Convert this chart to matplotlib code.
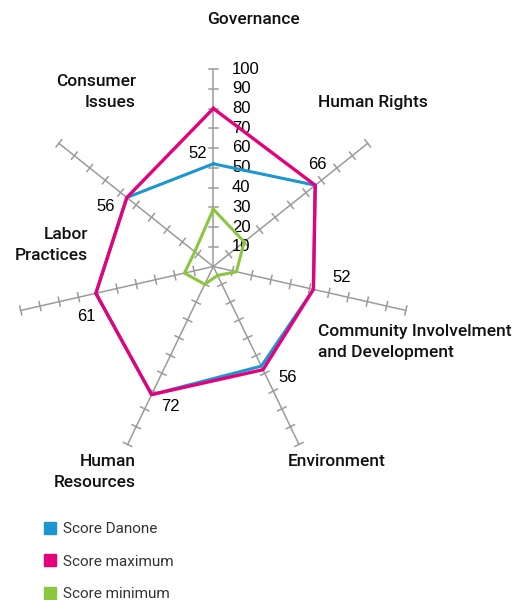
import numpy as np
import matplotlib.pyplot as plt
from matplotlib.patches import Patch

categories = ['Governance', 'Human Rights', 'Community Involvelment\nand Development',
              'Environment', 'Human\nResources', 'Labor\nPractices', 'Consumer\nIssues']
score_danone = [52, 66, 52, 56, 72, 61, 56]
score_max = [80, 66, 52, 58, 72, 61, 56]
score_min = [29, 20, 12, 5, 10, 15, 12]
scale_ticks = [10, 20, 30, 40, 50, 60, 70, 80, 90, 100]

W, H = 523, 600
cx, cy = 213.3, 266.5      # centre in pixels
k = 1.975                  # pixels per unit

fig = plt.figure(figsize=(W / 100, H / 100), dpi=100)
ax = fig.add_axes([0, 0, 1, 1])
ax.set_xlim(-cx / k, (W - cx) / k)
ax.set_ylim(-(H - cy) / k, cy / k)
ax.axis('off')

n = len(categories)
ang = np.deg2rad(90 - np.arange(n) * 360 / n)
ux, uy = np.cos(ang), np.sin(ang)

grey = '#9b9b9b'
# spokes with tick marks
for i in range(n):
    ax.plot([0, 100 * ux[i]], [0, 100 * uy[i]], color=grey, lw=1.1, zorder=1)
    px, py = -uy[i], ux[i]
    for t in scale_ticks:
        x0, y0 = t * ux[i], t * uy[i]
        ax.plot([x0 - 2.3 * px, x0 + 2.3 * px], [y0 - 2.3 * py, y0 + 2.3 * py],
                color=grey, lw=1.1, zorder=1)

# scale labels on the governance axis
for t in scale_ticks:
    ax.text(9.5, t, str(t), ha='left', va='center', fontsize=12,
            family='Liberation Sans', color='black')


def closed(v):
    v = np.array(v + v[:1], dtype=float)
    a = np.append(ang, ang[0])
    return v * np.cos(a), v * np.sin(a)


ax.plot(*closed(score_min), color='#8cc63f', lw=2.2, zorder=3)
ax.plot(*closed(score_danone), color='#1b96cf', lw=2.2, zorder=4)
ax.plot(*closed(score_max), color='#e5007e', lw=2.4, zorder=5)

# value labels (Danone)
offsets = [(-16, 10), (2, 21), (28, 12), (26, -11), (19, -12), (-9, -23), (-21, -9)]
for i, v in enumerate(score_danone):
    ax.annotate(str(v), (v * ux[i], v * uy[i]), xytext=offsets[i],
                textcoords='offset pixels', ha='center', va='center',
                fontsize=12, family='Liberation Sans')

# category labels (pixel positions)
lab_pos = [(253, 20, 'center'), (318, 103, 'left'), (318, 342, 'left'),
           (288, 462, 'left'), (136, 472, 'right'), (88, 245, 'right'),
           (136, 92, 'right')]
for c, (x, y, ha) in zip(categories, lab_pos):
    fig.text(x / W, 1 - y / H, c, ha=ha, va='center', multialignment=ha,
             fontsize=12.5, family='Roboto', weight='medium',
             color='#111111', linespacing=1.45)

handles = [Patch(color='#1b96cf'), Patch(color='#e5007e'), Patch(color='#8cc63f')]
fig.legend(handles, ['Score Danone', 'Score maximum', 'Score minimum'],
           loc='upper left', bbox_to_anchor=(44 / W, 1 - 522 / H),
           frameon=False, handlelength=0.8, handleheight=0.8,
           handletextpad=0.45, labelspacing=1.2,
           prop={'family': 'Roboto', 'weight': 'normal', 'size': 11},
           labelcolor='#333333', borderpad=0, borderaxespad=0)

fig.savefig('out.png', dpi=100)
